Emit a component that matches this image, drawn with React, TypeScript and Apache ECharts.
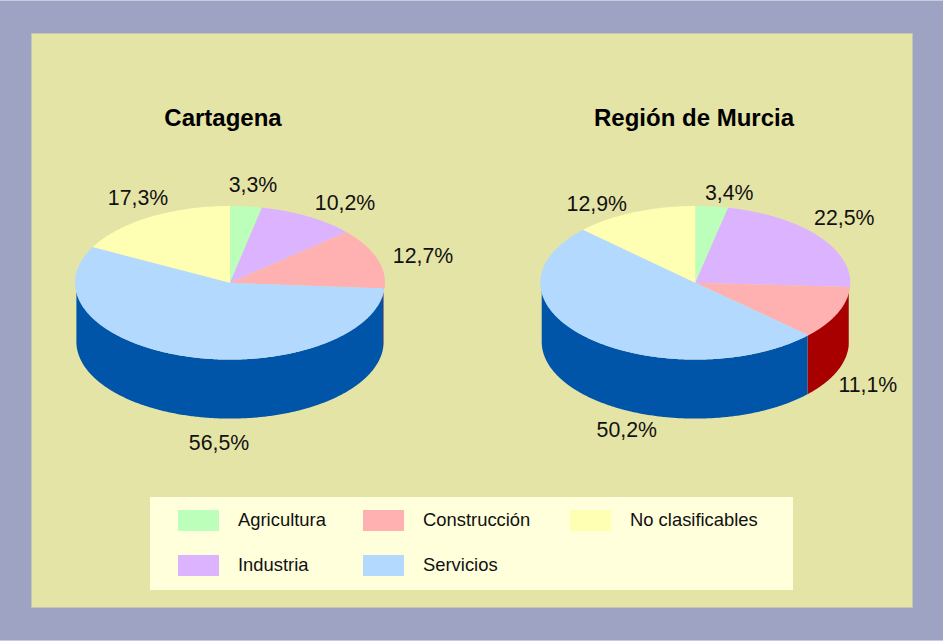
import React, { useEffect, useRef } from "react";
import * as echarts from "echarts";

const pieTitles = ["Cartagena", "Región de Murcia"];
const categories = ["Agricultura", "Industria", "Construcción", "Servicios", "No clasificables"];
const cartagena = [3.3, 10.2, 12.7, 56.5, 17.3];
const murcia = [3.4, 22.5, 11.1, 50.2, 12.9];
const topColors = ["#BBFFBB", "#DBB3FF", "#FFB0B0", "#B3D9FF", "#FFFFB3"];
const wallColors = ["#00A800", "#6A00C0", "#A80000", "#0055A8", "#A8A800"];
const legendColumns = [
  { names: ["Agricultura", "Industria"], left: 178 },
  { names: ["Construcción", "Servicios"], left: 363 },
  { names: ["No clasificables"], left: 570 },
];

// Placement of the percentage labels, relative to each pie's centre.
const labelOffsets = [
  [[23, -98.3], [115, -80.3], [193, -27.3], [-11, 160.2], [-92, -85.3]],
  [[34, -90.3], [149, -65.3], [172.5, 102.2], [-68.5, 147.2], [-98.5, -79.3]],
];
const pieCentres = [[230, 282.8], [695.3, 282.8]];
const RX = 155;
const RY = 76.8;
const WALL_RX = 153.6;
const DEPTH = 59;
const pies = [cartagena, murcia];
const FONT = '"Liberation Sans", Arial, sans-serif';

const point = (cx: number, cy: number, rx: number, ry: number, t: number) => [
  cx + rx * Math.sin(t),
  cy - ry * Math.cos(t),
];

function renderItem(catIndex: number) {
  return (_params: any, api: any) => {
    const pieIndex = api.value(0);
    const value = api.value(1);
    const values = pies[pieIndex];
    const total = values.reduce((a, b) => a + b, 0);
    const before = values.slice(0, catIndex).reduce((a, b) => a + b, 0);
    const start = (before / total) * Math.PI * 2;
    const end = ((before + value) / total) * Math.PI * 2;
    const [cx, cy] = pieCentres[pieIndex];
    const children: any[] = [];

    const wStart = Math.max(start, Math.PI / 2);
    const wEnd = Math.min(end, (Math.PI * 3) / 2);
    if (wEnd > wStart) {
      const upper: number[][] = [];
      const lower: number[][] = [];
      const n = Math.ceil((wEnd - wStart) / 0.01);
      for (let i = 0; i <= n; i++) {
        const t = wStart + ((wEnd - wStart) * i) / n;
        upper.push(point(cx, cy, WALL_RX, RY, t));
        lower.push(point(cx, cy + DEPTH, WALL_RX, RY, t));
      }
      children.push({
        type: "polygon",
        z2: 1,
        shape: { points: upper.concat(lower.reverse()) },
        style: { fill: wallColors[catIndex] },
      });
    }

    const top: number[][] = [[cx, cy]];
    const m = Math.ceil((end - start) / 0.01);
    for (let i = 0; i <= m; i++) {
      top.push(point(cx, cy, RX, RY, start + ((end - start) * i) / m));
    }
    children.push({
      type: "polygon",
      z2: 2,
      shape: { points: top },
      style: { fill: topColors[catIndex] },
    });

    const [dx, dy] = labelOffsets[pieIndex][catIndex];
    children.push({
      type: "text",
      z2: 3,
      style: {
        x: cx + dx,
        y: cy + dy,
        text: value.toFixed(1).replace(".", ",") + "%",
        fill: "#111111",
        font: `21.3px ${FONT}`,
        align: "center",
        verticalAlign: "middle",
      },
    });
    return { type: "group", children };
  };
}

export default function App() {
  const ref = useRef<HTMLDivElement>(null);
  useEffect(() => {
    document.body.style.margin = "0";
    const chart = echarts.init(ref.current!, undefined, { renderer: "svg" });
    chart.setOption({
      animation: false,
      backgroundColor: "#9EA3C4",
      title: pieTitles.map((text, i) => ({
        text,
        left: [223, 694][i],
        top: 105.5,
        textAlign: "center",
        padding: 0,
        textStyle: { fontFamily: FONT, fontSize: 24, fontWeight: "bold", color: "#000000" },
      })),
      legend: legendColumns.map((col) => ({
        data: col.names,
        left: col.left,
        top: 510,
        orient: "vertical",
        align: "left",
        padding: 0,
        itemWidth: 41,
        itemHeight: 21,
        itemGap: 24,
        icon: "rect",
        selectedMode: false,
        formatter: "{a|{name}}",
        textStyle: {
          rich: {
            a: { fontFamily: FONT, fontSize: 18.4, color: "#111111", padding: [0, 0, 3, 14] },
          },
        },
      })),
      graphic: [
        { type: "rect", z: -5, shape: { x: 0, y: 0, width: 943, height: 1 }, style: { fill: "#C9CBDE" } },
        { type: "rect", z: -5, shape: { x: 0, y: 640, width: 943, height: 1 }, style: { fill: "#C9CBDE" } },
        { type: "rect", z: -5, shape: { x: 31.5, y: 33.5, width: 881, height: 574 }, style: { fill: "#E5E4A7", stroke: "#C4C6B4", lineWidth: 1 } },
        { type: "rect", z: -4, shape: { x: 150, y: 497, width: 643, height: 93 }, style: { fill: "#FFFFDB" } },
      ],
      series: categories.map((name, c) => ({
        type: "custom",
        name,
        coordinateSystem: "none",
        silent: true,
        itemStyle: { color: topColors[c] },
        data: pies.map((vals, p) => [p, vals[c]]),
        renderItem: renderItem(c),
      })),
    });
    return () => chart.dispose();
  }, []);
  return <div ref={ref} style={{ position: "fixed", left: 0, top: 0, width: 943, height: 641 }} />;
}
